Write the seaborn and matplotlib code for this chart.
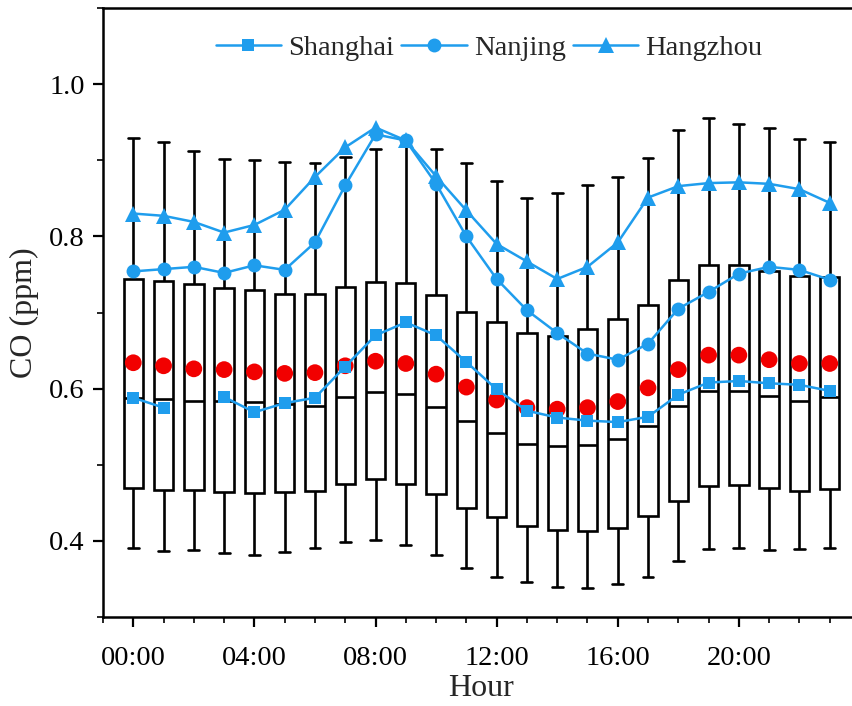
import numpy as np
import pandas as pd
import matplotlib
matplotlib.use("Agg")
import matplotlib.pyplot as plt
from matplotlib.ticker import MultipleLocator, FixedLocator
from matplotlib.lines import Line2D
import seaborn as sns

hours = list(range(24))
tick_labels = ["00:00", "04:00", "08:00", "12:00", "16:00", "20:00"]

# box statistics (combined CO, ppm)
whis_low = [0.390, 0.387, 0.388, 0.384, 0.382, 0.386, 0.390, 0.398, 0.401, 0.394, 0.382, 0.365,
            0.353, 0.346, 0.340, 0.338, 0.344, 0.353, 0.374, 0.389, 0.390, 0.388, 0.389, 0.390]
q1 = [0.469, 0.467, 0.467, 0.464, 0.463, 0.464, 0.466, 0.475, 0.481, 0.475, 0.461, 0.443,
      0.432, 0.419, 0.414, 0.413, 0.417, 0.433, 0.452, 0.472, 0.474, 0.470, 0.466, 0.468]
median = [0.588, 0.586, 0.584, 0.584, 0.582, 0.580, 0.577, 0.589, 0.596, 0.593, 0.576, 0.557,
          0.542, 0.527, 0.525, 0.526, 0.534, 0.551, 0.577, 0.597, 0.597, 0.590, 0.584, 0.589]
q3 = [0.744, 0.741, 0.738, 0.732, 0.729, 0.724, 0.724, 0.734, 0.740, 0.739, 0.723, 0.701,
      0.688, 0.673, 0.669, 0.678, 0.691, 0.710, 0.743, 0.763, 0.763, 0.754, 0.748, 0.746]
whis_high = [0.929, 0.924, 0.912, 0.902, 0.900, 0.898, 0.896, 0.904, 0.915, 0.928, 0.915, 0.896,
             0.873, 0.850, 0.857, 0.867, 0.878, 0.903, 0.940, 0.955, 0.948, 0.943, 0.928, 0.924]
mean = [0.634, 0.630, 0.626, 0.625, 0.622, 0.620, 0.621, 0.630, 0.636, 0.633, 0.619, 0.602,
        0.585, 0.575, 0.573, 0.575, 0.583, 0.601, 0.625, 0.644, 0.644, 0.638, 0.633, 0.633]

shanghai = [0.588, 0.575, np.nan, 0.589, 0.569, 0.581, 0.588, 0.629, 0.670, 0.687, 0.670, 0.635,
            0.599, 0.571, 0.562, 0.558, 0.556, 0.563, 0.592, 0.608, 0.610, 0.607, 0.605, 0.597]
nanjing = [0.754, 0.757, 0.760, 0.752, 0.762, 0.756, 0.792, 0.867, 0.934, 0.926, 0.869, 0.800,
           0.744, 0.703, 0.673, 0.646, 0.638, 0.659, 0.705, 0.727, 0.751, 0.760, 0.756, 0.743]
hangzhou = [0.830, 0.827, 0.819, 0.805, 0.815, 0.835, 0.878, 0.917, 0.943, 0.926, 0.879, 0.834,
            0.790, 0.767, 0.744, 0.760, 0.792, 0.851, 0.866, 0.870, 0.871, 0.869, 0.862, 0.844]

sns.set_theme(style="ticks")
plt.rcParams["font.family"] = ["Liberation Serif", "DejaVu Serif"]
plt.rcParams["axes.linewidth"] = 1.8

BLUE = "#1f9ded"
RED = "#f20000"
FS = 20.5
LFS = 23

fig = plt.figure(figsize=(8.52, 7.06), dpi=100)
ax = fig.add_axes([103 / 852, 1 - 617 / 706, (860 - 103) / 852, (617 - 8) / 706])

# long-form data whose five-number summary reproduces each box
rows = []
for h in hours:
    for v in (whis_low[h], q1[h], median[h], q3[h], whis_high[h]):
        rows.append({"hour": h, "CO": v})
box_df = pd.DataFrame(rows)

sns.boxplot(data=box_df, x="hour", y="CO", whis=np.inf, width=0.64, color="white",
            linecolor="black", linewidth=1.9, saturation=1, showfliers=False, ax=ax,
            native_scale=True)

# widen caps
for ln in ax.lines:
    xd = np.asarray(ln.get_xdata(), dtype=float)
    yd = np.asarray(ln.get_ydata(), dtype=float)
    if len(xd) == 2 and yd[0] == yd[1] and abs(xd[1] - xd[0]) < 0.5:
        c = xd.mean()
        val = yd[0]
        h = int(round(c))
        if np.isclose(val, whis_low[h]) or np.isclose(val, whis_high[h]):
            ln.set_xdata([c - 0.18, c + 0.18])

mean_df = pd.DataFrame({"hour": hours, "mean": mean})
sns.scatterplot(data=mean_df, x="hour", y="mean", color=RED, s=145, edgecolor="none",
                ax=ax, zorder=4, legend=False)

city_df = pd.DataFrame({"hour": hours, "Shanghai": shanghai, "Nanjing": nanjing,
                        "Hangzhou": hangzhou})
city_df["seg"] = [0 if h < 2 else 1 for h in hours]

LW = 1.8
sh = city_df.dropna(subset=["Shanghai"])
sns.lineplot(data=sh, x="hour", y="Shanghai", units="seg", estimator=None, color=BLUE,
             lw=LW, marker="s", markersize=9, markeredgewidth=0, ax=ax, zorder=5)
sns.lineplot(data=city_df, x="hour", y="Nanjing", color=BLUE, lw=LW, marker="o",
             markersize=10, markeredgewidth=0, ax=ax, zorder=5)
sns.lineplot(data=city_df, x="hour", y="Hangzhou", color=BLUE, lw=LW, marker="^",
             markersize=11, markeredgewidth=0, ax=ax, zorder=5)

handles = [Line2D([], [], color=BLUE, lw=LW, marker=m, markersize=ms, markeredgewidth=0)
           for m, ms in (("s", 9), ("o", 10), ("^", 11))]
ax.legend(handles, ["Shanghai", "Nanjing", "Hangzhou"], loc="upper center",
          bbox_to_anchor=(0.51, 0.997), ncol=3, frameon=False, fontsize=FS,
          handlelength=2.3, handletextpad=0.25, columnspacing=0.25)

ax.set_xlim(-1, 24)
ax.set_ylim(0.3, 1.1)
ax.xaxis.set_major_locator(FixedLocator([0, 4, 8, 12, 16, 20]))
ax.set_xticklabels(tick_labels)
ax.xaxis.set_minor_locator(MultipleLocator(1))
ax.yaxis.set_major_locator(FixedLocator([0.4, 0.6, 0.8, 1.0]))
ax.yaxis.set_minor_locator(MultipleLocator(0.1))
ax.set_yticklabels(["0.4", "0.6", "0.8", "1.0"])

ax.tick_params(axis="both", which="major", direction="out", length=7, width=1.6,
               labelsize=FS, colors="black", pad=6)
ax.tick_params(axis="both", which="minor", direction="out", length=4, width=1.4)
ax.tick_params(axis="x", which="major", pad=14)

ax.set_xlabel("Hour", fontsize=LFS, labelpad=2)
ax.set_ylabel("CO (ppm)", fontsize=LFS, labelpad=7)
for s in ax.spines.values():
    s.set_color("black")
    s.set_linewidth(1.8)

fig.savefig("out.png", dpi=100)
